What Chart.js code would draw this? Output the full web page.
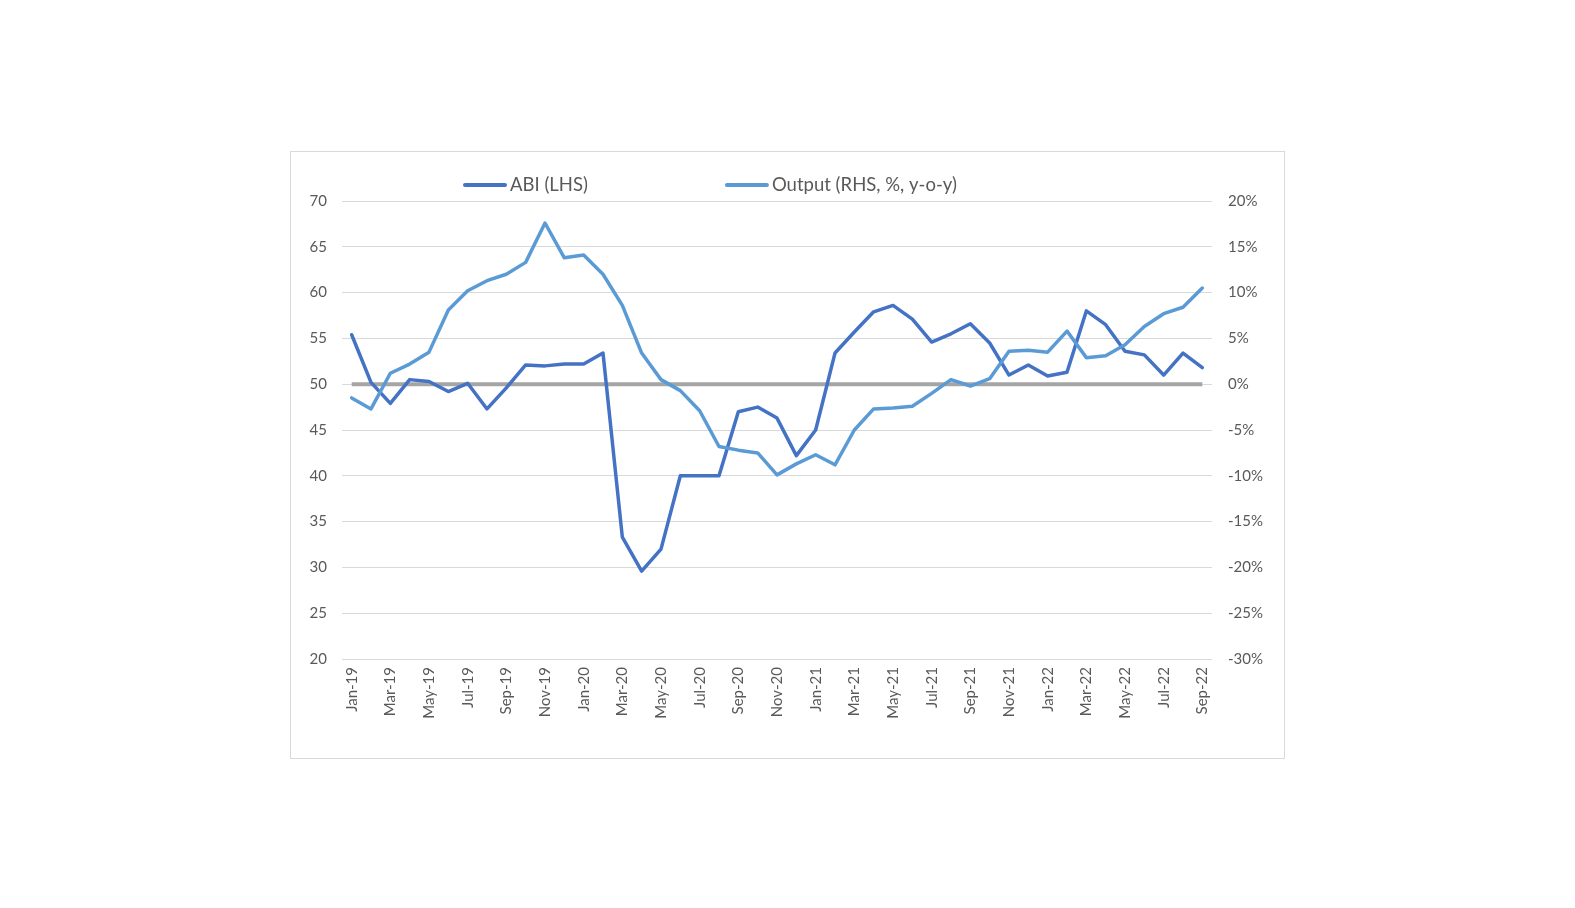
<!DOCTYPE html>
<html>
<head>
<meta charset="utf-8">
<script src="https://cdn.jsdelivr.net/npm/chart.js@4.4.1/dist/chart.umd.min.js"></script>
<style>
  html, body { margin: 0; padding: 0; background: #ffffff; }
  body { width: 1575px; height: 908px; position: relative; overflow: hidden; }
  #frame { position: absolute; left: 290px; top: 151px; width: 993px; height: 606px; border: 1px solid #D9D9D9; }
  #wrap { position: absolute; left: 0; top: 0; width: 993px; height: 606px; }
</style>
</head>
<body>
<div id="frame"><div id="wrap"><canvas id="c"></canvas></div></div>
<script>
const categories = ["Jan-19","Feb-19","Mar-19","Apr-19","May-19","Jun-19","Jul-19","Aug-19","Sep-19","Oct-19","Nov-19","Dec-19",
  "Jan-20","Feb-20","Mar-20","Apr-20","May-20","Jun-20","Jul-20","Aug-20","Sep-20","Oct-20","Nov-20","Dec-20",
  "Jan-21","Feb-21","Mar-21","Apr-21","May-21","Jun-21","Jul-21","Aug-21","Sep-21","Oct-21","Nov-21","Dec-21",
  "Jan-22","Feb-22","Mar-22","Apr-22","May-22","Jun-22","Jul-22","Aug-22","Sep-22"];

const abi = [55.4, 50.2, 47.9, 50.5, 50.3, 49.2, 50.1, 47.3, 49.6, 52.1, 52.0, 52.2,
  52.2, 53.4, 33.3, 29.6, 32.0, 40.0, 40.0, 40.0, 47.0, 47.5, 46.3, 42.2,
  45.0, 53.4, 55.7, 57.9, 58.6, 57.1, 54.6, 55.5, 56.6, 54.5, 51.0, 52.1,
  50.9, 51.3, 58.0, 56.5, 53.6, 53.2, 51.0, 53.4, 51.8];

const output = [-1.5, -2.7, 1.2, 2.2, 3.5, 8.1, 10.2, 11.3, 12.0, 13.3, 17.6, 13.8,
  14.1, 12.0, 8.6, 3.4, 0.5, -0.7, -2.9, -6.8, -7.2, -7.5, -9.9, -8.7,
  -7.7, -8.8, -5.0, -2.7, -2.6, -2.4, -1.0, 0.5, -0.2, 0.6, 3.6, 3.7,
  3.5, 5.8, 2.9, 3.1, 4.3, 6.3, 7.7, 8.4, 10.5];

const threshold = categories.map(() => 50);

const leftTicks = { min: 20, max: 70, step: 5 };
const rightTicks = { min: -30, max: 20, step: 5 };

const labelABI = "ABI (LHS)";
const labelOutput = "Output (RHS, %, y-o-y)";

const FONT = "Lato, 'Open Sans', sans-serif";
const TEXT = "#595959";

const legendPlugin = {
  id: 'customLegend',
  afterDraw(chart) {
    const ctx = chart.ctx;
    const area = chart.chartArea;
    const items = chart.data.datasets.filter(d => d.showInLegend).sort((a, b) => a.legendIndex - b.legendIndex);
    ctx.save();
    ctx.font = "18.5px " + FONT;
    ctx.textBaseline = 'middle';
    ctx.textAlign = 'left';
    let x = area.left + 123;
    const y = area.top - 16;
    items.forEach(d => {
      ctx.strokeStyle = d.borderColor;
      ctx.lineWidth = 4;
      ctx.lineCap = 'round';
      ctx.beginPath();
      ctx.moveTo(x, y);
      ctx.lineTo(x + 40, y);
      ctx.stroke();
      ctx.fillStyle = TEXT;
      ctx.fillText(d.label, x + 45, y);
      x += 45 + ctx.measureText(d.label).width + 139;
    });
    ctx.restore();
  }
};

new Chart(document.getElementById('c'), {
  type: 'line',
  data: {
    labels: categories,
    datasets: [
      { label: labelOutput, data: output, yAxisID: 'yR', borderColor: '#5B9BD5', borderWidth: 3.5,
        pointRadius: 0, tension: 0, borderJoinStyle: 'round', borderCapStyle: 'round', order: 0,
        showInLegend: true, legendIndex: 1 },
      { label: labelABI, data: abi, yAxisID: 'yL', borderColor: '#4472C4', borderWidth: 3.5,
        pointRadius: 0, tension: 0, borderJoinStyle: 'round', borderCapStyle: 'round', order: 1,
        showInLegend: true, legendIndex: 0 },
      { label: '', data: threshold, yAxisID: 'yL', borderColor: '#A5A5A5', borderWidth: 4,
        pointRadius: 0, tension: 0, order: 2, showInLegend: false }
    ]
  },
  options: {
    responsive: true,
    maintainAspectRatio: false,
    animation: false,
    layout: { padding: { top: 49, left: 0, right: 0, bottom: 0 } },
    plugins: { legend: { display: false }, tooltip: { enabled: false } },
    scales: {
      x: {
        offset: true,
        grid: { display: false, drawTicks: false },
        border: { display: false },
        ticks: {
          autoSkip: false, minRotation: 90, maxRotation: 90, padding: 8,
          color: TEXT, font: { family: FONT, size: 15 },
          callback: function(v, i) { return i % 2 === 0 ? categories[i] : ''; }
        },
        afterFit(s) { s.height = 99; }
      },
      yL: {
        position: 'left',
        min: leftTicks.min, max: leftTicks.max,
        grid: { color: '#D9D9D9', lineWidth: 1, drawTicks: false },
        border: { display: false },
        ticks: { stepSize: leftTicks.step, padding: 15, color: TEXT, font: { family: FONT, size: 15 } },
        afterFit(s) { s.width = 51; }
      },
      yR: {
        position: 'right',
        min: rightTicks.min, max: rightTicks.max,
        grid: { display: false, drawTicks: false },
        border: { display: false },
        ticks: { stepSize: rightTicks.step, padding: 16, color: TEXT, font: { family: FONT, size: 15 },
          callback: v => v + '%' },
        afterFit(s) { s.width = 72; }
      }
    }
  },
  plugins: [legendPlugin]
});
</script>
</body>
</html>
